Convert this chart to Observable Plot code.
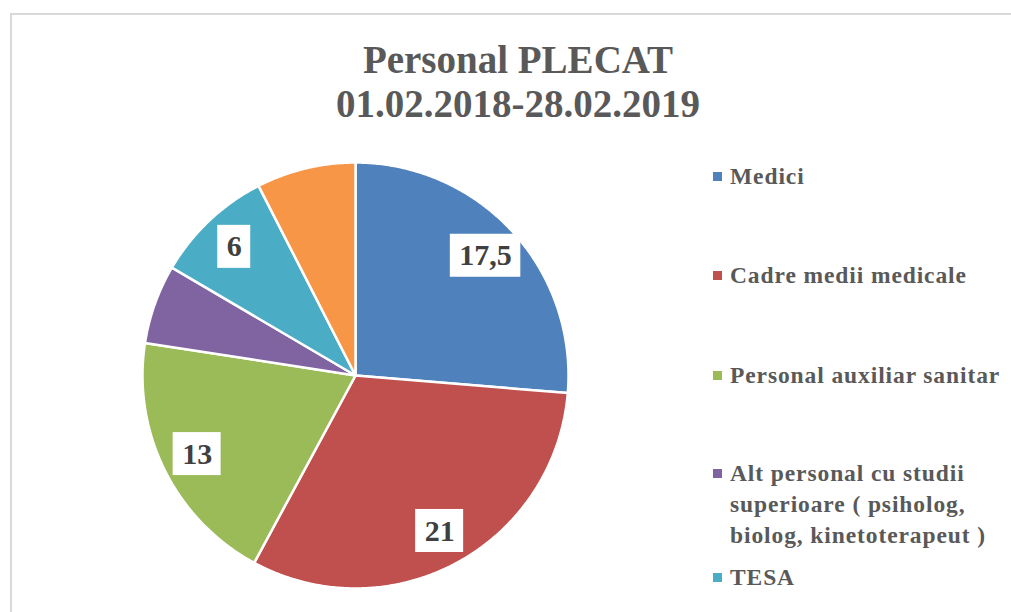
<!DOCTYPE html>
<html><head><meta charset="utf-8">
<script src="https://cdn.jsdelivr.net/npm/d3@7"></script>
<script src="https://cdn.jsdelivr.net/npm/@observablehq/plot@0.6"></script>
<style>
body{margin:0;background:#fff;overflow:hidden;width:1011px;height:612px;position:relative;font-family:"Liberation Serif","Times New Roman",serif;}
#frame{position:absolute;left:10px;top:13px;width:1100px;height:700px;border:2px solid #d9d9d9;}
#chart{position:absolute;left:0;top:0;}
#title{position:absolute;left:218px;width:600px;top:38px;text-align:center;font-weight:bold;font-size:39px;line-height:44px;color:#595959;}
.leg{position:absolute;left:713px;font-weight:bold;font-size:23.5px;line-height:31px;color:#595959;letter-spacing:0.9px;}
.leg .sw{position:absolute;left:0;top:11px;width:9px;height:9px;}
.leg .tx{margin-left:17px;width:280px;}
</style></head>
<body>
<div id="frame"></div>
<div id="chart"></div>
<div id="title">Personal PLECAT<br>01.02.2018-28.02.2019</div>
<div id="legend"></div>
<script>
const categories = ["Medici", "Cadre medii medicale", "Personal auxiliar sanitar",
  "Alt personal cu studii superioare ( psiholog, biolog, kinetoterapeut )", "TESA", "Muncitori"];
const values = [17.5, 21, 13, 4, 6, 5];
const colors = ["#4F81BD", "#C0504D", "#9BBB59", "#8064A2", "#4BACC6", "#F79646"];
const showLabel = [true, true, true, false, true, false];
const legendCount = 5; // the 6th entry lies outside the visible area in the reference
const legendTops = [161, 260, 360, 458, 562];

const data = categories.map((name, i) => ({name, value: values[i], color: colors[i], show: showLabel[i]}));
const arcs = d3.pie().sort(null).value(d => d.value)(data);

const pts = [];
for (const a of arcs) {
  const n = Math.max(2, Math.ceil((a.endAngle - a.startAngle) / (Math.PI / 360)));
  pts.push({name: a.data.name, px: 0, py: 0});
  for (let i = 0; i <= n; i++) {
    const t = a.startAngle + (a.endAngle - a.startAngle) * i / n;
    pts.push({name: a.data.name, px: Math.sin(t), py: Math.cos(t)});
  }
}

const R = 213;
const ctx = document.createElement("canvas").getContext("2d");
ctx.font = "bold 30px 'Liberation Serif'";
const labels = arcs.filter(a => a.data.show).map(a => {
  const mid = (a.startAngle + a.endAngle) / 2;
  const text = String(a.data.value).replace(".", ",");
  const w = ctx.measureText(text).width + 18;
  const lx = 0.83 * Math.sin(mid), ly = 0.83 * Math.cos(mid);
  return {text, lx, ly, x1: lx - w / 2 / R, x2: lx + w / 2 / R, y1: ly - 21.5 / R, y2: ly + 21.5 / R};
});

const chart = Plot.plot({
  width: 1011, height: 612,
  x: {domain: [-1, 1], range: [355 - R, 355 + R], axis: null},
  y: {domain: [-1, 1], range: [375 + R, 375 - R], axis: null},
  color: {domain: categories, range: colors},
  style: {background: "transparent"},
  marks: [
    Plot.line(pts, {x: "px", y: "py", z: "name", fill: "name", stroke: "white", strokeWidth: 2.5, curve: "linear-closed"}),
    Plot.rect(labels, {x1: "x1", x2: "x2", y1: "y1", y2: "y2", fill: "white"}),
    Plot.text(labels, {x: "lx", y: "ly", text: "text", fontSize: 30, fontWeight: "bold", fontFamily: "Liberation Serif", fill: "#404040"})
  ]
});
document.getElementById("chart").appendChild(chart);

const leg = document.getElementById("legend");
for (let i = 0; i < legendCount; i++) {
  const d = document.createElement("div");
  d.className = "leg";
  d.style.top = legendTops[i] + "px";
  d.innerHTML = `<div class="sw" style="background:${colors[i]}"></div><div class="tx"></div>`;
  d.querySelector(".tx").textContent = categories[i];
  leg.appendChild(d);
}
</script>
</body></html>
